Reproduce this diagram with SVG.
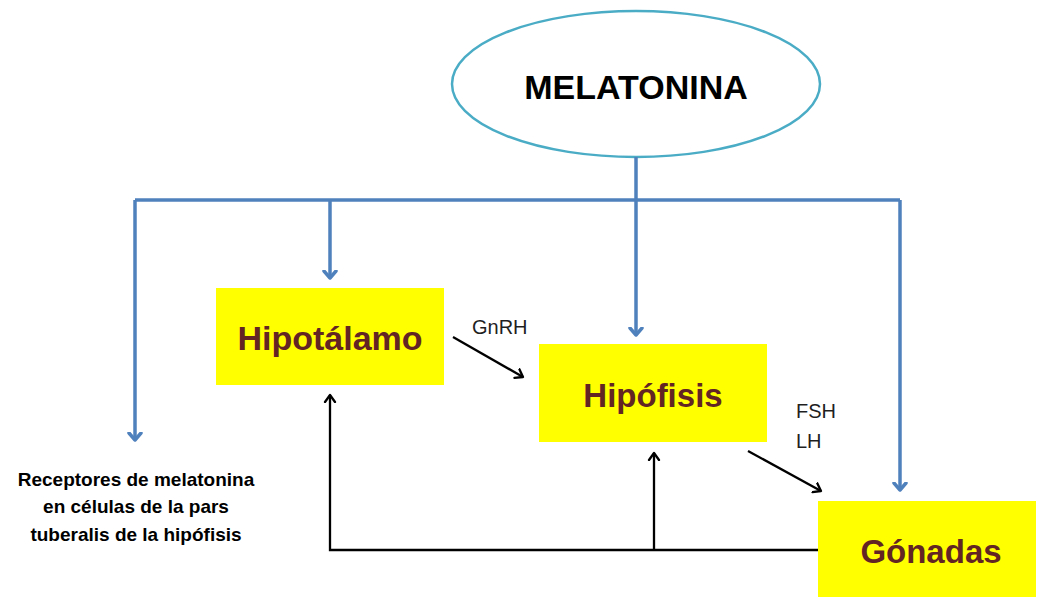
<svg xmlns="http://www.w3.org/2000/svg" width="1038" height="597" viewBox="0 0 1038 597">
<style>
.blue{fill:none;stroke:#4f81bd;stroke-width:3.5}
.blk{fill:none;stroke:#000;stroke-width:2.3}
.box{fill:#ffff00}
.lbl{font-family:"Liberation Sans",Arial,sans-serif;font-weight:bold;fill:#632523;text-anchor:middle}
.small{font-family:"Liberation Sans",Arial,sans-serif;font-size:20px;fill:#1f1f1f}
.rec{font-family:"Liberation Sans",Arial,sans-serif;font-weight:bold;font-size:19px;fill:#000;text-anchor:middle}
</style>
<defs>
<marker id="mb" viewBox="-8 -8 16 16" refX="0" refY="0" markerWidth="16" markerHeight="16" markerUnits="userSpaceOnUse" orient="auto">
<path d="M-7,-6 L0,0 L-7,6" fill="none" stroke="#4f81bd" stroke-width="3.5" stroke-linecap="round" stroke-linejoin="round"/>
</marker>
<marker id="mk" viewBox="-8 -8 16 16" refX="0" refY="0" markerWidth="16" markerHeight="16" markerUnits="userSpaceOnUse" orient="auto">
<path d="M-7,-5 L0,0 L-7,5" fill="none" stroke="#000" stroke-width="2.3" stroke-linecap="round" stroke-linejoin="round"/>
</marker>
</defs>
<rect width="1038" height="597" fill="#fff"/>
<g id="melatonina">
<ellipse cx="636" cy="84" rx="184" ry="73" fill="#fff" stroke="#4bacc6" stroke-width="2.5"/>
<text x="636" y="99" font-family="Liberation Sans,Arial,sans-serif" font-weight="bold" font-size="34" text-anchor="middle" fill="#000">MELATONINA</text>
</g>
<g id="connectors">
<path class="blue" d="M636,157 V200"/>
<path class="blue" d="M135,200 H900"/>
<path class="blue" d="M135,200 V440" marker-end="url(#mb)"/>
<path class="blue" d="M330,200 V278" marker-end="url(#mb)"/>
<path class="blue" d="M636,200 V335" marker-end="url(#mb)"/>
<path class="blue" d="M900,200 V490" marker-end="url(#mb)"/>
<path class="blk" d="M453,337 L523,377" marker-end="url(#mk)"/>
<path class="blk" d="M748,451 L821,491" marker-end="url(#mk)"/>
<path class="blk" d="M818,550 H330 V395" marker-end="url(#mk)"/>
<path class="blk" d="M654,550 V453" marker-end="url(#mk)"/>
</g>
<g id="hipotalamo">
<rect class="box" x="216" y="288" width="228" height="97"/>
<text class="lbl" x="330" y="350" font-size="34">Hipotálamo</text>
</g>
<g id="hipofisis">
<rect class="box" x="539" y="344" width="228" height="98"/>
<text class="lbl" x="653" y="407" font-size="33">Hipófisis</text>
</g>
<g id="gonadas">
<rect class="box" x="818" y="501" width="218" height="96"/>
<text class="lbl" x="931" y="563" font-size="33">Gónadas</text>
</g>
<g id="labels">
<text class="small" x="472" y="334">GnRH</text>
<text class="small" x="796" y="418">FSH</text>
<text class="small" x="796" y="448">LH</text>
</g>
<g id="receptores">
<text class="rec" x="136" y="486">Receptores de melatonina</text>
<text class="rec" x="136" y="513">en células de la pars</text>
<text class="rec" x="136" y="541">tuberalis de la hipófisis</text>
</g>
</svg>
